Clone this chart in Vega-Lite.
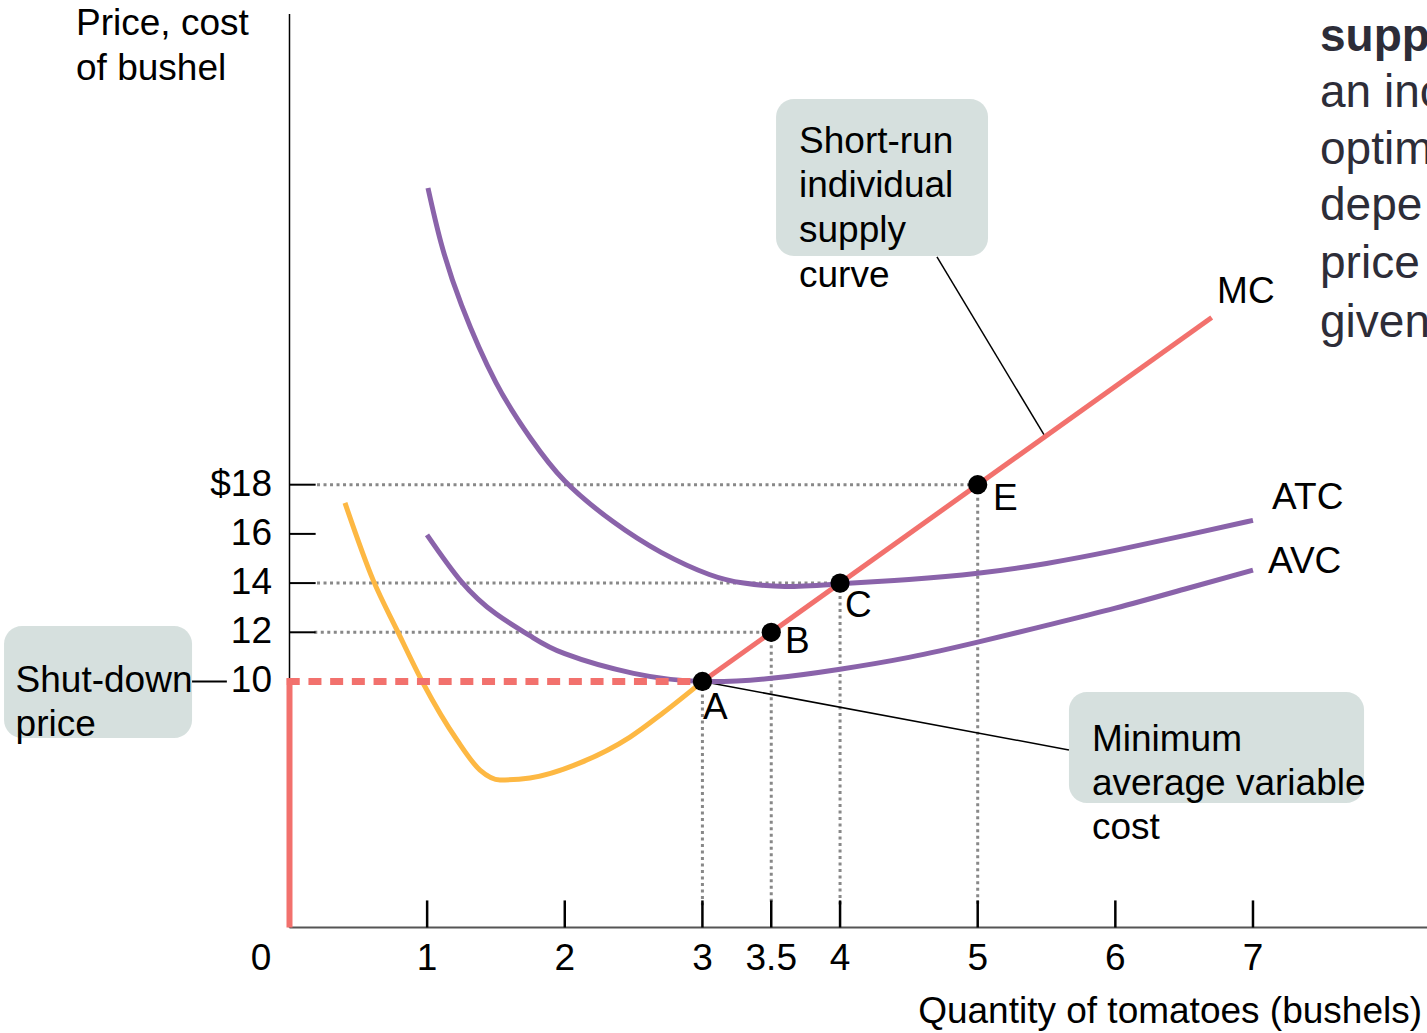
{
  "$schema": "https://vega.github.io/schema/vega-lite/v6.json",
  "width": 1427,
  "height": 1033,
  "autosize": {"type": "none"},
  "padding": 0,
  "background": "white",
  "config": {
    "view": {"stroke": null},
    "axis": {"disable": true},
    "text": {"font": "Liberation Sans"}
  },
  "datasets": {
    "boxes": [
      {"name": "supply", "x": 3.535, "x2": 5.075, "y": 33.68, "y2": 27.3},
      {"name": "shutdown", "x": -2.074, "x2": -0.708, "y": 12.26, "y2": 7.7},
      {"name": "minavc", "x": 5.663, "x2": 7.807, "y": 9.57, "y2": 5.06}
    ],
    "dotted": [
      {"x": 0.2, "y": 18, "x2": 5, "y2": 18},
      {"x": 0.2, "y": 14, "x2": 4, "y2": 14},
      {"x": 0.18, "y": 12, "x2": 3.5, "y2": 12},
      {"x": 3, "y": 10, "x2": 3, "y2": 0.9},
      {"x": 3.5, "y": 12, "x2": 3.5, "y2": 0.9},
      {"x": 4, "y": 14, "x2": 4, "y2": 0.9},
      {"x": 5, "y": 18, "x2": 5, "y2": 0.9}
    ],
    "yaxis": [{"x": 0, "y": 0, "x2": 0, "y2": 37.13}],
    "xaxis": [{"x": 0, "y": 0, "x2": 8.3, "y2": 0}],
    "xticks": [
      {"x": 1, "y": 0, "x2": 1, "y2": 1.1},
      {"x": 2, "y": 0, "x2": 2, "y2": 1.1},
      {"x": 3, "y": 0, "x2": 3, "y2": 1.1},
      {"x": 3.5, "y": 0, "x2": 3.5, "y2": 1.1},
      {"x": 4, "y": 0, "x2": 4, "y2": 1.1},
      {"x": 5, "y": 0, "x2": 5, "y2": 1.1},
      {"x": 6, "y": 0, "x2": 6, "y2": 1.1},
      {"x": 7, "y": 0, "x2": 7, "y2": 1.1}
    ],
    "yticks": [
      {"x": 0, "y": 12, "x2": 0.19, "y2": 12},
      {"x": 0, "y": 14, "x2": 0.19, "y2": 14},
      {"x": 0, "y": 16, "x2": 0.19, "y2": 16},
      {"x": 0, "y": 18, "x2": 0.19, "y2": 18},
      {"x": -0.708, "y": 10, "x2": -0.455, "y2": 10}
    ],
    "connectors": [
      {"x": 4.704, "y": 27.26, "x2": 5.489, "y2": 19.96},
      {"x": 3, "y": 10, "x2": 5.663, "y2": 7.215}
    ],
    "purple": [
      {"curve": "ATC", "x": 1.006, "y": 30.06},
      {"curve": "ATC", "x": 1.1, "y": 27.85},
      {"curve": "ATC", "x": 1.25, "y": 25.3},
      {"curve": "ATC", "x": 1.5, "y": 22.15},
      {"curve": "ATC", "x": 1.75, "y": 19.9},
      {"curve": "ATC", "x": 2.0, "y": 18.15},
      {"curve": "ATC", "x": 2.35, "y": 16.5},
      {"curve": "ATC", "x": 2.7, "y": 15.25},
      {"curve": "ATC", "x": 3.05, "y": 14.35},
      {"curve": "ATC", "x": 3.3, "y": 14.0},
      {"curve": "ATC", "x": 3.6, "y": 13.86},
      {"curve": "ATC", "x": 4.0, "y": 13.97},
      {"curve": "ATC", "x": 4.5, "y": 14.15},
      {"curve": "ATC", "x": 5.0, "y": 14.4},
      {"curve": "ATC", "x": 5.5, "y": 14.8},
      {"curve": "ATC", "x": 6.0, "y": 15.33},
      {"curve": "ATC", "x": 6.5, "y": 15.93},
      {"curve": "ATC", "x": 7.0, "y": 16.55},
      {"curve": "AVC", "x": 0.999, "y": 15.96},
      {"curve": "AVC", "x": 1.25, "y": 14.05},
      {"curve": "AVC", "x": 1.5, "y": 12.75},
      {"curve": "AVC", "x": 1.75, "y": 11.85},
      {"curve": "AVC", "x": 2.0, "y": 11.13},
      {"curve": "AVC", "x": 2.5, "y": 10.33},
      {"curve": "AVC", "x": 3.0, "y": 10.0},
      {"curve": "AVC", "x": 3.5, "y": 10.13},
      {"curve": "AVC", "x": 4.0, "y": 10.5},
      {"curve": "AVC", "x": 4.5, "y": 10.98},
      {"curve": "AVC", "x": 5.0, "y": 11.6},
      {"curve": "AVC", "x": 5.5, "y": 12.28},
      {"curve": "AVC", "x": 6.0, "y": 12.98},
      {"curve": "AVC", "x": 6.5, "y": 13.75},
      {"curve": "AVC", "x": 7.0, "y": 14.53}
    ],
    "mc": [
      {"curve": "MClow", "x": 0.403, "y": 17.26},
      {"curve": "MClow", "x": 0.607, "y": 14.13},
      {"curve": "MClow", "x": 0.781, "y": 12.09},
      {"curve": "MClow", "x": 0.97, "y": 9.94},
      {"curve": "MClow", "x": 1.217, "y": 7.62},
      {"curve": "MClow", "x": 1.384, "y": 6.4},
      {"curve": "MClow", "x": 1.529, "y": 6.0},
      {"curve": "MClow", "x": 1.747, "y": 6.08},
      {"curve": "MClow", "x": 2.11, "y": 6.69},
      {"curve": "MClow", "x": 2.474, "y": 7.74},
      {"curve": "MClow", "x": 2.713, "y": 8.72},
      {"curve": "MClow", "x": 3.0, "y": 10.0},
      {"curve": "MC", "x": 3.0, "y": 10.0},
      {"curve": "MC", "x": 6.7, "y": 24.8}
    ],
    "redDash": [{"x": -0.02, "y": 10, "x2": 3, "y2": 10}],
    "redSolid": [{"x": 0, "y": 10.13, "x2": 0, "y2": 0}],
    "points": [
      {"label": "A", "x": 3, "y": 10},
      {"label": "B", "x": 3.5, "y": 12},
      {"label": "C", "x": 4, "y": 14},
      {"label": "E", "x": 5, "y": 18}
    ],
    "labels": [
      {"text": "Price, cost", "x": -1.551, "y": 36.28},
      {"text": "of bushel", "x": -1.551, "y": 34.45},
      {"text": "Short-run", "x": 3.702, "y": 31.48},
      {"text": "individual", "x": 3.702, "y": 29.69},
      {"text": "supply", "x": 3.702, "y": 27.87},
      {"text": "curve", "x": 3.702, "y": 26.04},
      {"text": "Shut-down", "x": -1.99, "y": 9.57},
      {"text": "price", "x": -1.99, "y": 7.78},
      {"text": "Minimum", "x": 5.83, "y": 7.175},
      {"text": "average variable", "x": 5.83, "y": 5.386},
      {"text": "cost", "x": 5.83, "y": 3.598},
      {"text": "A", "x": 3.005, "y": 8.48},
      {"text": "B", "x": 3.6, "y": 11.16},
      {"text": "C", "x": 4.036, "y": 12.62},
      {"text": "E", "x": 5.111, "y": 16.97},
      {"text": "MC", "x": 6.739, "y": 25.39},
      {"text": "ATC", "x": 7.139, "y": 17.01},
      {"text": "AVC", "x": 7.109, "y": 14.41}
    ],
    "yLabels": [
      {"text": "$18", "x": -0.127, "y": 18},
      {"text": "16", "x": -0.127, "y": 16},
      {"text": "14", "x": -0.127, "y": 14},
      {"text": "12", "x": -0.127, "y": 12},
      {"text": "10", "x": -0.127, "y": 10}
    ],
    "xLabels": [
      {"text": "0", "x": -0.207, "y": -1.3},
      {"text": "1", "x": 1, "y": -1.3},
      {"text": "2", "x": 2, "y": -1.3},
      {"text": "3", "x": 3, "y": -1.3},
      {"text": "3.5", "x": 3.5, "y": -1.3},
      {"text": "4", "x": 4, "y": -1.3},
      {"text": "5", "x": 5, "y": -1.3},
      {"text": "6", "x": 6, "y": -1.3},
      {"text": "7", "x": 7, "y": -1.3}
    ],
    "xTitle": [{"text": "Quantity of tomatoes (bushels)", "x": 8.228, "y": -3.42}],
    "paraBold": [{"text": "supp", "x": 7.487, "y": 35.62}],
    "para": [
      {"text": "an inc", "x": 7.487, "y": 33.37},
      {"text": "optim", "x": 7.487, "y": 31.02},
      {"text": "depe", "x": 7.487, "y": 28.74},
      {"text": "price", "x": 7.487, "y": 26.4},
      {"text": "given", "x": 7.487, "y": 23.99}
    ]
  },
  "encoding": {
    "x": {"field": "x", "type": "quantitative", "scale": {"domain": [-2.1033, 8.2643], "nice": false, "zero": false}, "axis": null},
    "y": {"field": "y", "type": "quantitative", "scale": {"domain": [-4.289, 37.703], "nice": false, "zero": false}, "axis": null}
  },
  "layer": [
    {
      "data": {"name": "boxes"},
      "mark": {"type": "rect", "color": "#D6E0DE", "cornerRadius": 18},
      "encoding": {"x2": {"field": "x2"}, "y2": {"field": "y2"}}
    },
    {
      "data": {"name": "dotted"},
      "mark": {"type": "rule", "color": "#888888", "strokeWidth": 3, "strokeDash": [3, 3.5]},
      "encoding": {"x2": {"field": "x2"}, "y2": {"field": "y2"}}
    },
    {
      "data": {"name": "yaxis"},
      "mark": {"type": "rule", "color": "#000000", "strokeWidth": 1.5},
      "encoding": {"x2": {"field": "x2"}, "y2": {"field": "y2"}}
    },
    {
      "data": {"name": "xaxis"},
      "mark": {"type": "rule", "color": "#555555", "strokeWidth": 2},
      "encoding": {"x2": {"field": "x2"}, "y2": {"field": "y2"}}
    },
    {
      "data": {"name": "xticks"},
      "mark": {"type": "rule", "color": "#000000", "strokeWidth": 2.5},
      "encoding": {"x2": {"field": "x2"}, "y2": {"field": "y2"}}
    },
    {
      "data": {"name": "yticks"},
      "mark": {"type": "rule", "color": "#000000", "strokeWidth": 2},
      "encoding": {"x2": {"field": "x2"}, "y2": {"field": "y2"}}
    },
    {
      "data": {"name": "connectors"},
      "mark": {"type": "rule", "color": "#000000", "strokeWidth": 1.5},
      "encoding": {"x2": {"field": "x2"}, "y2": {"field": "y2"}}
    },
    {
      "data": {"name": "purple"},
      "mark": {"type": "line", "strokeWidth": 5, "interpolate": "natural", "color": "#8A63AA"},
      "encoding": {"detail": {"field": "curve", "type": "nominal"}}
    },
    {
      "data": {"name": "mc"},
      "mark": {"type": "line", "strokeWidth": 5, "interpolate": "monotone"},
      "encoding": {
        "color": {"field": "curve", "type": "nominal", "legend": null,
          "scale": {"domain": ["MClow", "MC"], "range": ["#FDB843", "#F2716D"]}}
      }
    },
    {
      "data": {"name": "redDash"},
      "mark": {"type": "rule", "color": "#F2716D", "strokeWidth": 7, "strokeDash": [13, 8.7]},
      "encoding": {"x2": {"field": "x2"}, "y2": {"field": "y2"}}
    },
    {
      "data": {"name": "redSolid"},
      "mark": {"type": "rule", "color": "#F2716D", "strokeWidth": 6},
      "encoding": {"x2": {"field": "x2"}, "y2": {"field": "y2"}}
    },
    {
      "data": {"name": "points"},
      "mark": {"type": "circle", "color": "#000000", "opacity": 1, "size": 370}
    },
    {
      "data": {"name": "labels"},
      "mark": {"type": "text", "align": "left", "baseline": "alphabetic", "fontSize": 37, "color": "#000000"},
      "encoding": {"text": {"field": "text"}}
    },
    {
      "data": {"name": "yLabels"},
      "mark": {"type": "text", "align": "right", "baseline": "middle", "fontSize": 37, "color": "#000000"},
      "encoding": {"text": {"field": "text"}}
    },
    {
      "data": {"name": "xLabels"},
      "mark": {"type": "text", "align": "center", "baseline": "middle", "fontSize": 37, "color": "#000000"},
      "encoding": {"text": {"field": "text"}}
    },
    {
      "data": {"name": "xTitle"},
      "mark": {"type": "text", "align": "right", "baseline": "middle", "fontSize": 37, "color": "#000000"},
      "encoding": {"text": {"field": "text"}}
    },
    {
      "data": {"name": "paraBold"},
      "mark": {"type": "text", "align": "left", "baseline": "alphabetic", "fontSize": 46, "fontWeight": "bold", "color": "#2D2D38"},
      "encoding": {"text": {"field": "text"}}
    },
    {
      "data": {"name": "para"},
      "mark": {"type": "text", "align": "left", "baseline": "alphabetic", "fontSize": 46, "color": "#2D2D38"},
      "encoding": {"text": {"field": "text"}}
    }
  ]
}
